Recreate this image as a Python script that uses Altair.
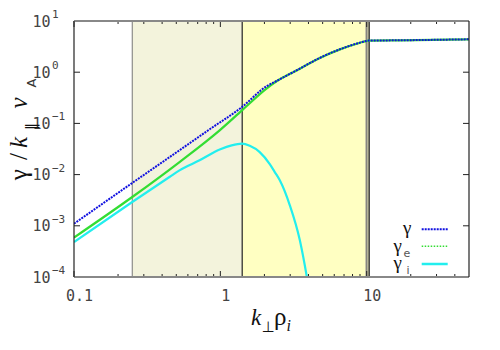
import altair as alt
import pandas as pd

# ---- data ----
gamma_x = [0.1, 0.25, 0.526, 0.845, 1.406, 2.066, 2.418, 3.493, 4.79, 6.56, 9.0, 9.89, 10.37, 16.9, 50]
gamma_y = [1.10e-3, 6.86e-3, 0.0299, 0.0767, 0.209, 0.531, 0.673, 1.175, 1.91, 2.80, 3.78, 4.06, 4.14, 4.20, 4.39]

gamma_e_x = [0.1, 0.25, 0.526, 0.989, 1.406, 2.066, 2.418, 3.493, 4.79, 6.56, 9.0, 9.89, 10.37, 16.9, 50]
gamma_e_y = [5.89e-4, 3.65e-3, 0.0176, 0.0733, 0.180, 0.479, 0.665, 1.17, 1.90, 2.79, 3.77, 4.05, 4.13, 4.19, 4.38]

gamma_i_x = [0.1, 0.25, 0.449, 0.526, 0.721, 1.0, 1.195, 1.406, 1.588, 1.858, 2.176, 2.354, 2.548, 2.984, 3.493, 3.90, 4.09]
gamma_i_y = [4.83e-4, 2.92e-3, 8.97e-3, 0.0121, 0.0190, 0.0312, 0.0373, 0.0403, 0.0365, 0.0275, 0.0160, 0.0112, 7.74e-3, 2.51e-3, 5.21e-4, 1.0e-4, 4.4e-5]

beige_band = [0.25, 1.41]
yellow_band = [1.41, 9.75]
grey_band = [9.75, 10.4]
vlines_light = [0.25, 10.0]
vlines_dark = [1.41, 10.4]

x_major = [0.1, 1, 10]
x_minor = [0.2, 0.3, 0.4, 0.5, 0.6, 0.7, 0.8, 0.9, 2, 3, 4, 5, 6, 7, 8, 9, 20, 30, 40]
y_major = [1e-4, 1e-3, 1e-2, 1e-1, 1, 10]
y_exponents = ["−4", "−3", "−2", "−1", "0", "1"]

W, H = 395, 256

xs = alt.Scale(type="log", domain=[0.1, 50], nice=False)
ys = alt.Scale(type="log", domain=[1e-4, 10], nice=False)

AX = alt.Axis(values=x_major, format="~g", title=None, ticks=False, tickSize=0, domain=False,
              grid=False, labelPadding=11, labelOffset=5, labelFont="DejaVu Sans Mono",
              labelFontSize=15, labelColor="#444", labelFlush=False)
AY = alt.Axis(values=y_major, labelExpr="'10'", title=None, ticks=False, tickSize=0, domain=False,
              grid=False, labelPadding=24, labelFont="DejaVu Sans Mono", labelFontSize=15,
              labelColor="#444", labelFlush=False)

lines_df = pd.concat([
    pd.DataFrame({"k": gamma_x, "g": gamma_y, "s": "gamma"}),
    pd.DataFrame({"k": gamma_e_x, "g": gamma_e_y, "s": "gamma_e"}),
    pd.DataFrame({"k": gamma_i_x, "g": gamma_i_y, "s": "gamma_i"}),
])


def band(rng, color):
    return alt.Chart(pd.DataFrame({"a": [rng[0]], "b": [rng[1]]})).mark_rect(color=color).encode(
        x=alt.X("a:Q", scale=xs, axis=AX), x2="b:Q",
        y=alt.value(0), y2=alt.value(H))


def vl(vals, color, w):
    return alt.Chart(pd.DataFrame({"v": vals})).mark_rule(color=color, strokeWidth=w).encode(
        x=alt.X("v:Q", scale=xs, axis=AX), y=alt.value(0), y2=alt.value(H))


def series(name, color, width, dash=None):
    kw = dict(color=color, strokeWidth=width, clip=True, interpolate="monotone")
    if dash:
        kw["strokeDash"] = dash
    return alt.Chart(lines_df).transform_filter(alt.datum.s == name).mark_line(**kw).encode(
        x=alt.X("k:Q", scale=xs, axis=AX),
        y=alt.Y("g:Q", scale=ys, axis=AY))


def xticks(vals, y0, y1):
    return alt.Chart(pd.DataFrame({"v": vals})).mark_rule(color="#222", strokeWidth=1).encode(
        x=alt.X("v:Q", scale=xs, axis=AX), y=alt.value(y0), y2=alt.value(y1))


def yticks(vals, x0, x1):
    return alt.Chart(pd.DataFrame({"v": vals})).mark_rule(color="#222", strokeWidth=1).encode(
        y=alt.Y("v:Q", scale=ys, axis=AY), x=alt.value(x0), x2=alt.value(x1))


def hseg(x0, x1, y, color, w, dash=None):
    kw = dict(color=color, strokeWidth=w)
    if dash:
        kw["strokeDash"] = dash
    return alt.Chart(pd.DataFrame({"d": [0]})).mark_rule(**kw).encode(
        x=alt.value(x0), x2=alt.value(x1), y=alt.value(y))


def vseg(x, y0, y1, color, w):
    return alt.Chart(pd.DataFrame({"d": [0]})).mark_rule(color=color, strokeWidth=w).encode(
        x=alt.value(x), y=alt.value(y0), y2=alt.value(y1))


SERIF = "Liberation Serif, Times New Roman, serif"


def txt(s, x, y, size, font=SERIF, style="normal", color="#111", angle=0,
        align="left", baseline="alphabetic"):
    return alt.Chart(pd.DataFrame({"t": [s]})).mark_text(
        font=font, fontSize=size, fontStyle=style, color=color, angle=angle,
        align=align, baseline=baseline).encode(x=alt.value(x), y=alt.value(y), text="t:N")


# superscript exponents of the y tick labels
exps = alt.Chart(pd.DataFrame({"v": y_major, "e": y_exponents})).mark_text(
    font="DejaVu Sans Mono", fontSize=11, color="#444", align="left", baseline="middle", dy=-6
).encode(y=alt.Y("v:Q", scale=ys, axis=AY), x=alt.value(-22), text="e:N")

lx0 = 347.7
legend = [
    hseg(lx0, lx0 + 26, 208.3, "#1010e0", 2, [2, 1]),
    hseg(lx0, lx0 + 26, 225.3, "#33dd33", 1.5, [1.5, 1.5]),
    hseg(lx0, lx0 + 26, 243, "#22eeee", 2.5),
    txt("γ", 337.5, 213, 19, align="right"),
    txt("γ", 328, 230.5, 19, align="right"),
    txt("e", 329.5, 236, 11, font="DejaVu Sans", color="#555"),
    txt("γ", 328, 247.5, 19, align="right"),
    txt("i", 332.5, 252.5, 11, font="DejaVu Sans", color="#555"),
]

titles = [
    txt("k", 177, 304, 23, style="italic"),
    txt("⊥", 187.5, 311, 15, font="DejaVu Sans"),
    txt("ρ", 200, 304, 25),
    txt("i", 212.5, 310, 16, style="italic"),
    txt("γ", -47.5, 159.3, 25, angle=270),
    txt("/", -47.5, 139, 25, angle=270),
    txt("k", -47.5, 127, 25, style="italic", angle=270),
    txt("‖", -38.5, 109, 14, font="DejaVu Sans", angle=270),
    txt("v", -47.5, 87.5, 25, style="italic", angle=270),
    txt("A", -38.5, 66.5, 13, font="DejaVu Sans", angle=270, color="#333"),
]

chart = alt.layer(
    band(beige_band, "#f3f3dc"),
    band(yellow_band, "#ffffc2"),
    band(grey_band, "#c4c2a0"),
    vl(vlines_light, "#777", 1),
    vl(vlines_dark, "#222", 1.2),
    series("gamma_i", "#22eeee", 2.2),
    series("gamma_e", "#33dd33", 2.2),
    series("gamma", "#1010e0", 2, [2, 1]),
    xticks(x_major, H, H - 6), xticks(x_major, 0, 6),
    xticks(x_minor, H, H - 3), xticks(x_minor, 0, 3),
    yticks(y_major, 0, 6), yticks(y_major, W, W - 6),
    hseg(0, W, 0, "#888", 2),
    hseg(0, W, H, "#888", 2),
    vseg(0, 0, H, "#222", 1.2),
    vseg(W, 0, H, "#222", 1.2),
    exps,
    *legend,
    *titles,
).properties(
    width=W, height=H,
    autosize=alt.AutoSizeParams(type="none"),
    padding={"left": 66, "top": 13, "right": 20, "bottom": 60},
).configure_view(stroke=None)

chart.save("out.html", embed_options={"renderer": "svg", "actions": False})
